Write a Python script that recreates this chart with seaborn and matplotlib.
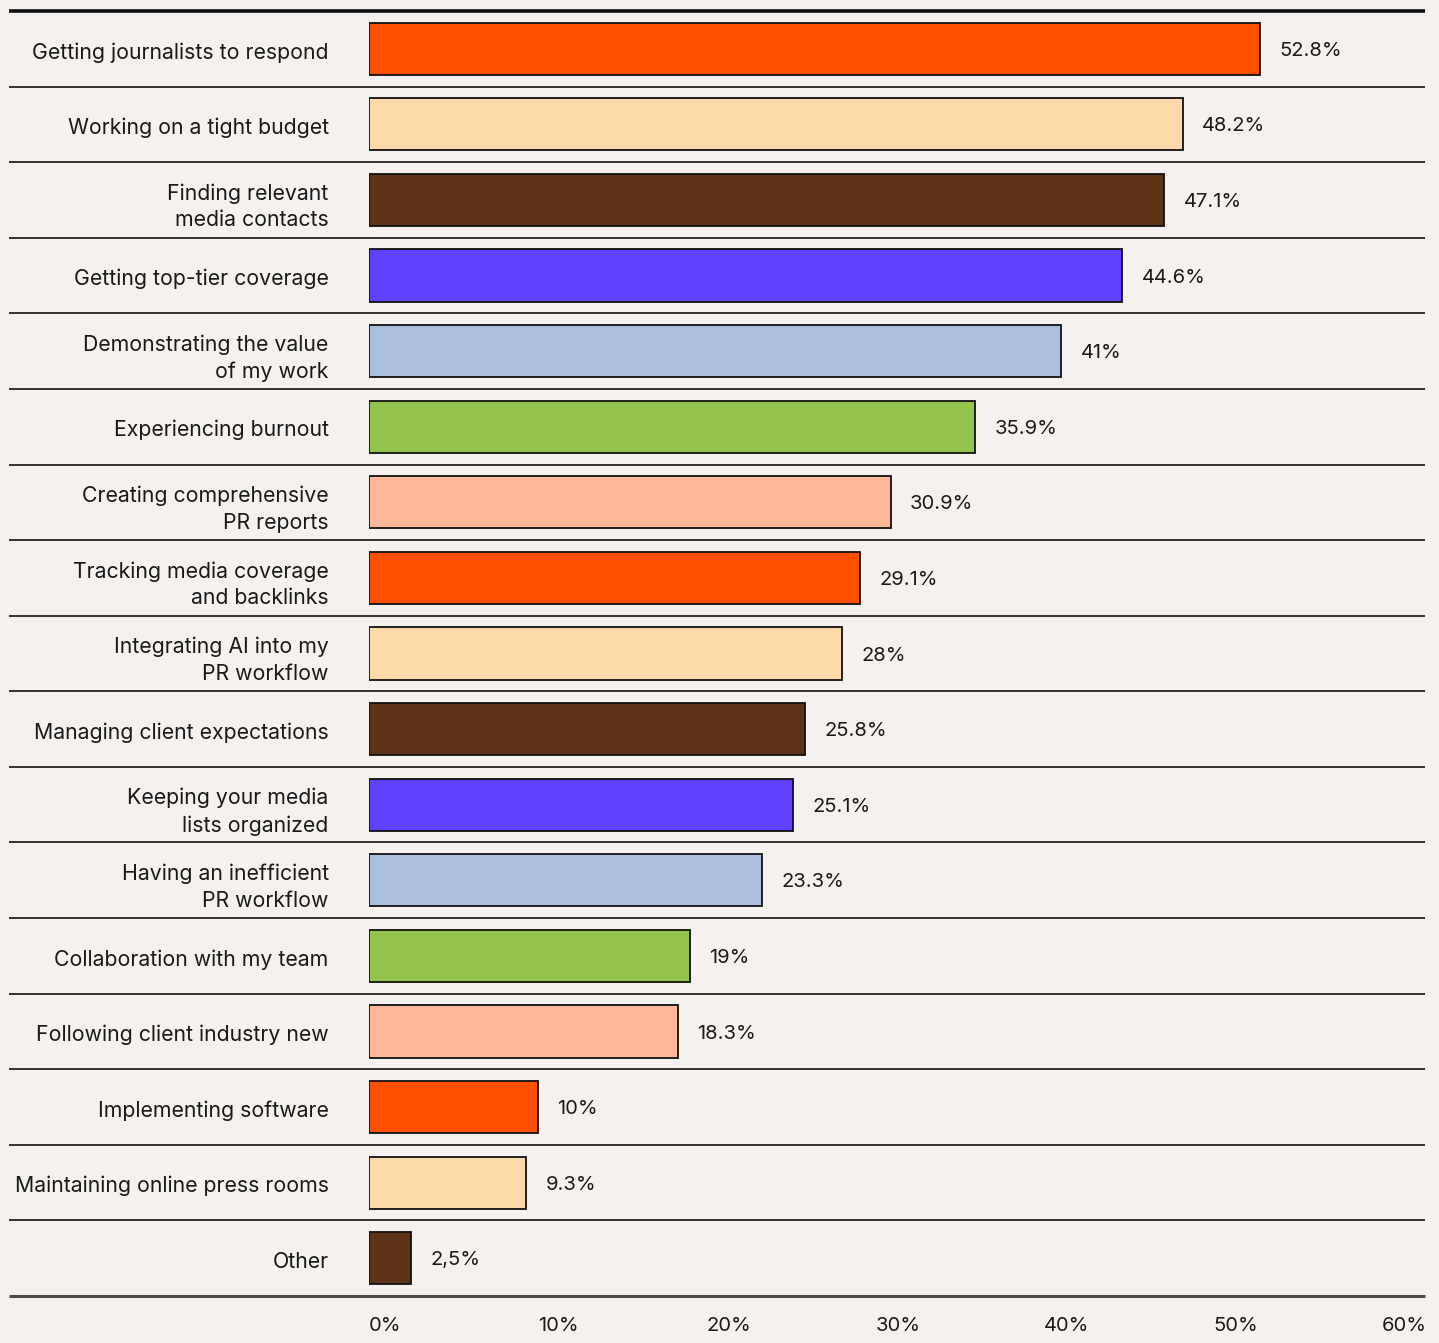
import matplotlib
matplotlib.use("Agg")
import matplotlib.pyplot as plt
import matplotlib.transforms as mtransforms
import seaborn as sns
import pandas as pd

challenges = [
    "Getting journalists to respond",
    "Working on a tight budget",
    "Finding relevant\nmedia contacts",
    "Getting top-tier coverage",
    "Demonstrating the value\nof my work",
    "Experiencing burnout",
    "Creating comprehensive\nPR reports",
    "Tracking media coverage\nand backlinks",
    "Integrating AI into my\nPR workflow",
    "Managing client expectations",
    "Keeping your media\nlists organized",
    "Having an inefficient\nPR workflow",
    "Collaboration with my team",
    "Following client industry new",
    "Implementing software",
    "Maintaining online press rooms",
    "Other",
]
shares = [52.8, 48.2, 47.1, 44.6, 41, 35.9, 30.9, 29.1, 28, 25.8, 25.1, 23.3, 19, 18.3, 10, 9.3, 2.5]
share_labels = ["52.8%", "48.2%", "47.1%", "44.6%", "41%", "35.9%", "30.9%", "29.1%", "28%",
                "25.8%", "25.1%", "23.3%", "19%", "18.3%", "10%", "9.3%", "2,5%"]
tick_values = [0, 10, 20, 30, 40, 50, 60]
tick_labels = ["0%", "10%", "20%", "30%", "40%", "50%", "60%"]

cycle = ["#FF4F00", "#FCD9A8", "#5C3317", "#6141FF", "#A9BFDD", "#93C44D", "#FDB89A"]
palette = [cycle[i % len(cycle)] for i in range(len(challenges))]

bg = "#F4F1EE"
sns.set_theme(style="white")
plt.rcParams["font.family"] = ["Inter", "DejaVu Sans"]

df = pd.DataFrame({"challenge": challenges, "share": shares})

fig = plt.figure(figsize=(14.39, 13.43), dpi=100, facecolor=bg)
ax = fig.add_axes([369 / 1439, 1 - 1296 / 1343, (1425 - 369) / 1439, (1296 - 11) / 1343])
ax.set_facecolor(bg)

sns.barplot(data=df, x="share", y="challenge", hue="challenge", palette=palette,
            legend=False, orient="h", width=0.69, edgecolor="#111111", linewidth=1.3,
            saturation=1, ax=ax)

# value labels, set slightly below the bar centre line
for cont, lab in zip(ax.containers, share_labels):
    for t in ax.bar_label(cont, labels=[lab], padding=14, fontsize=14.5, color="#1a1a1a"):
        t.xyann = (14, -1.5)

ax.set_xlim(0, 62.55)
ax.set_ylim(len(challenges) - 0.5, -0.5)
ax.set_xticks(tick_values)
ax.set_xticklabels(tick_labels, ha="left", fontsize=14.5, color="#1a1a1a")
ax.tick_params(axis="x", length=0, pad=15)
ax.tick_params(axis="y", length=0, pad=29)
nudge = mtransforms.ScaledTranslation(0, -1.5 / 100, fig.dpi_scale_trans)
for t in ax.get_yticklabels():
    t.set_fontsize(15.3)
    t.set_color("#1a1a1a")
    t.set_linespacing(1.42)
    t.set_transform(t.get_transform() + nudge)
ax.set_xlabel("")
ax.set_ylabel("")
for s in ax.spines.values():
    s.set_visible(False)

# row separators spanning label column and plot area
trans = ax.get_yaxis_transform()
x0 = (9 - 369) / (1425 - 369)
n = len(challenges)
for i in range(n + 1):
    y = i - 0.5
    if i == 0:
        lw, col = 2.6, "#111111"
    elif i == n:
        lw, col = 2.2, "#4a4a4a"
    else:
        lw, col = 1.3, "#222222"
    ax.plot([x0, 1], [y, y], transform=trans, color=col, lw=lw, clip_on=False,
            solid_capstyle="butt")

fig.savefig("out.png", dpi=100, facecolor=bg)
